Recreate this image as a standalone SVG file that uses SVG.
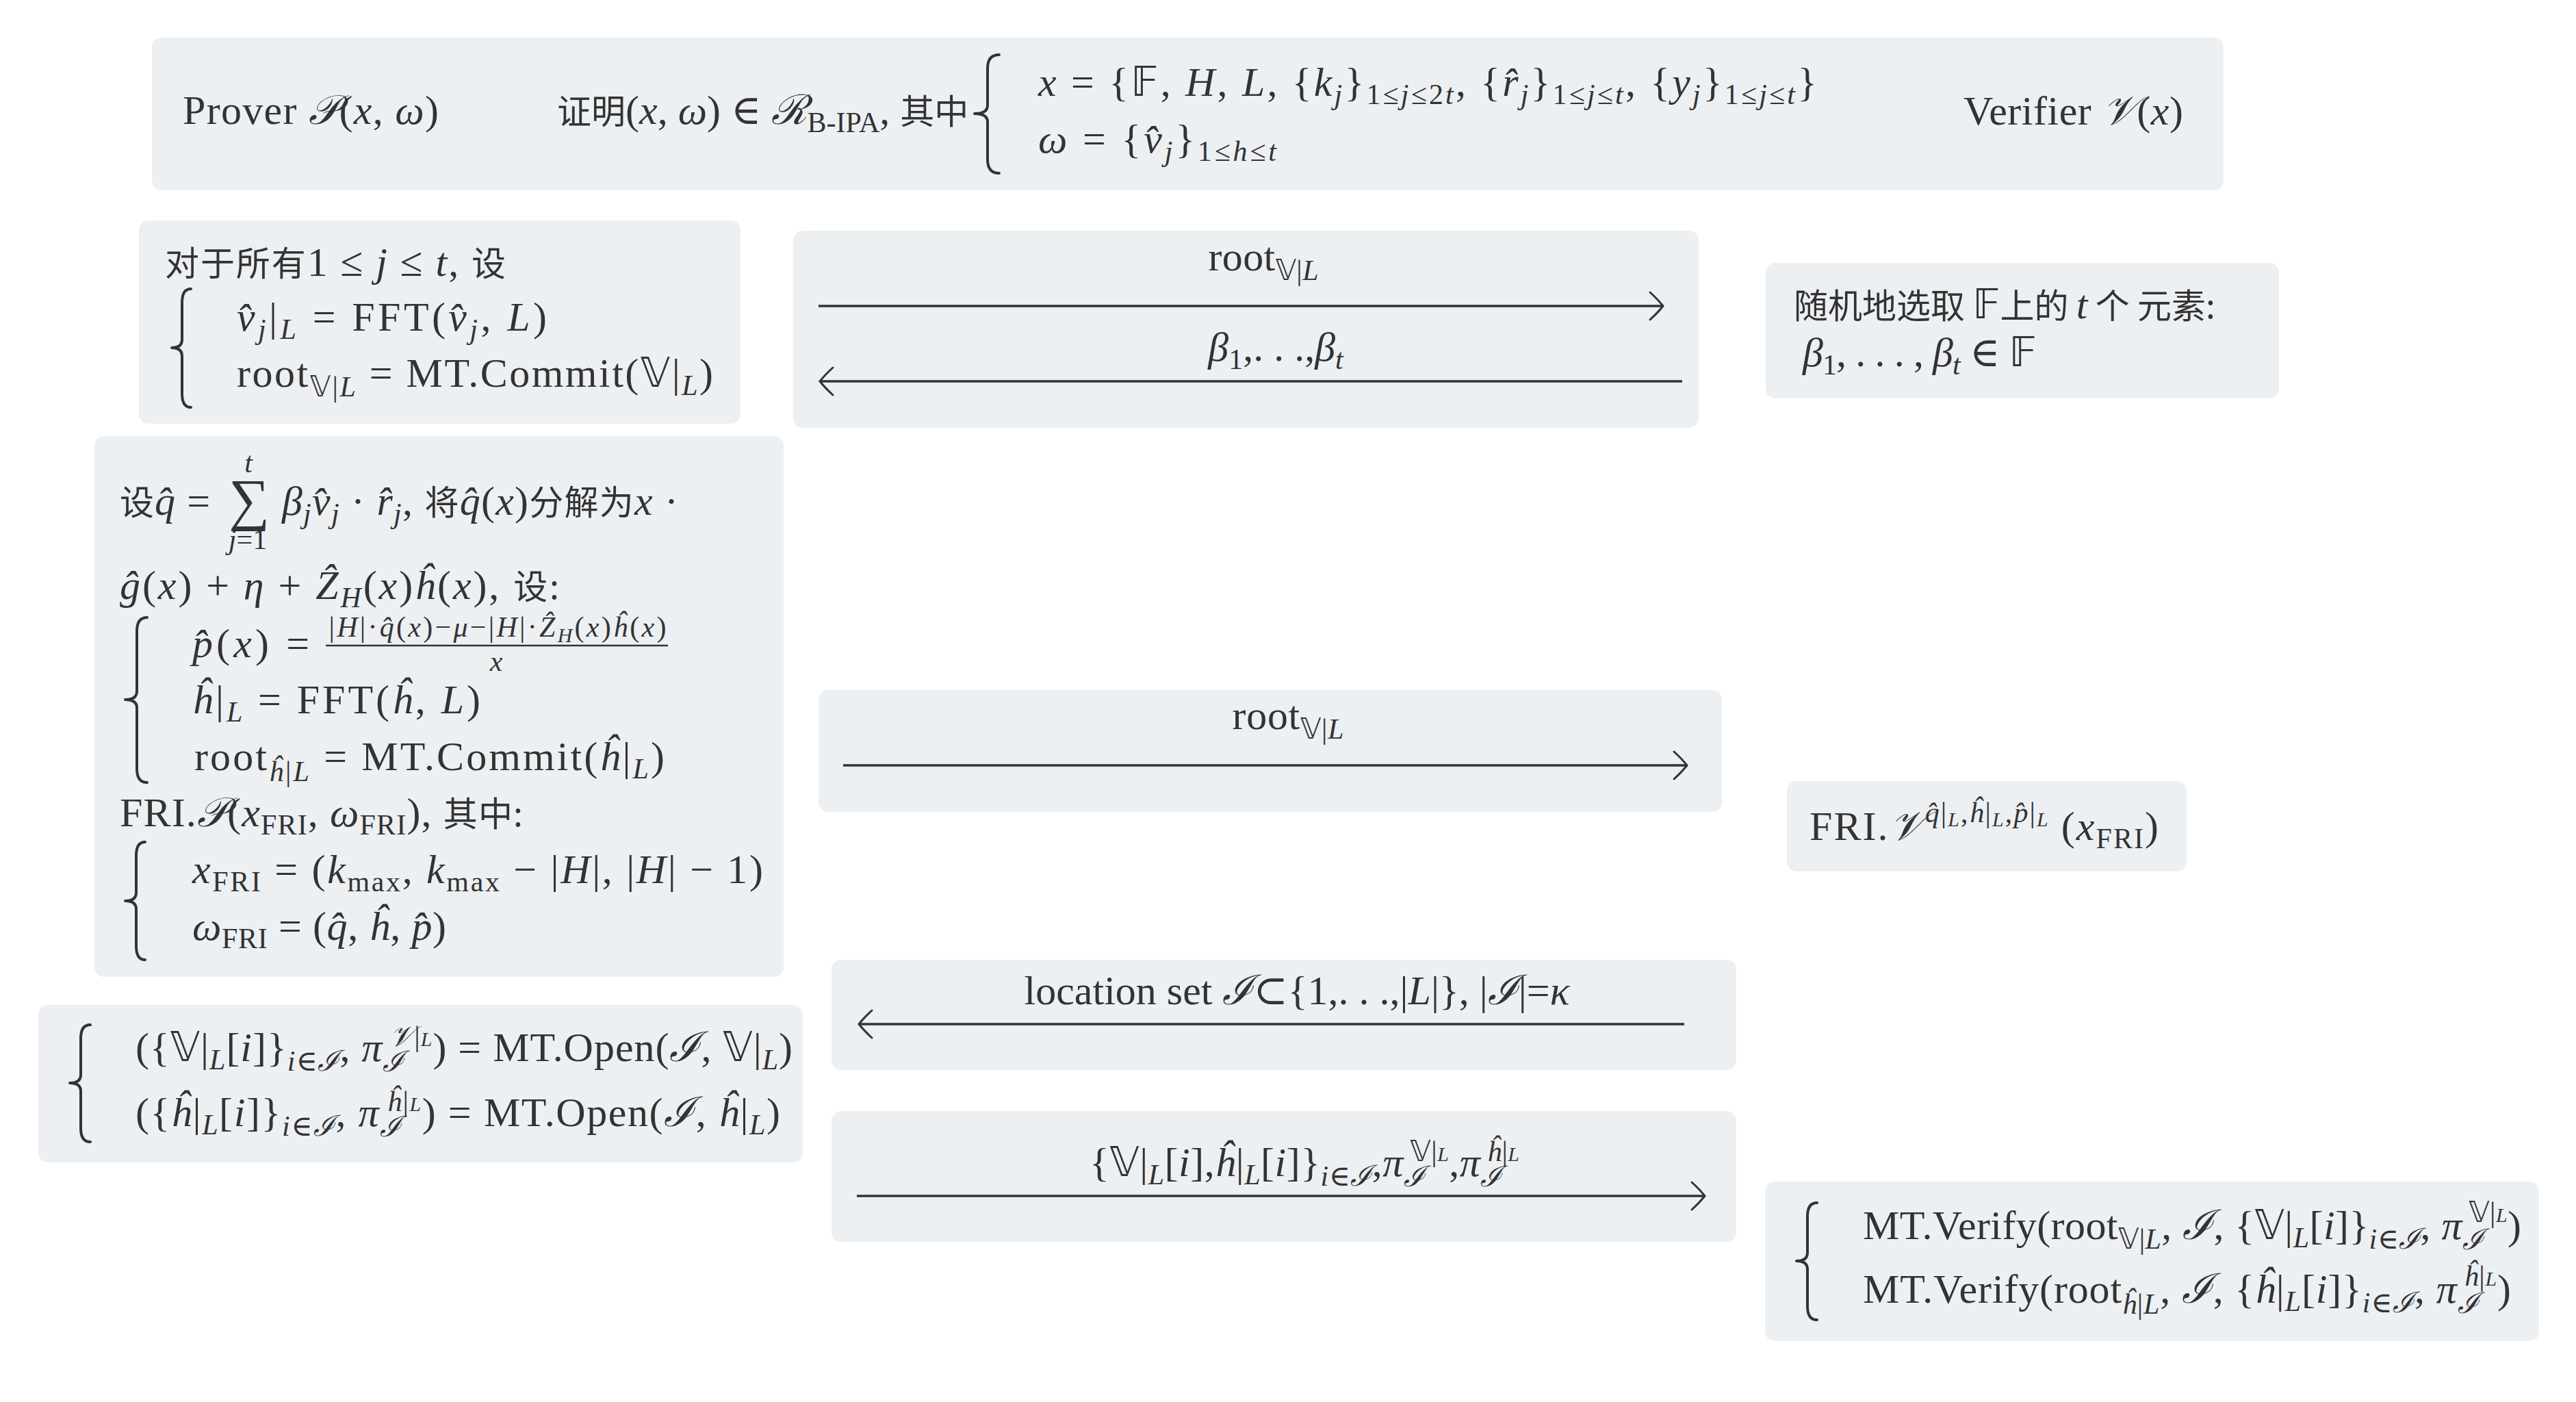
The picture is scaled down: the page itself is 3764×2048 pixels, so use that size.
<svg xmlns="http://www.w3.org/2000/svg" width="3764" height="2048" viewBox="0 0 3764 2048">
<style>
.bx{fill:#edf0f3}
text{font-family:"Liberation Serif","DejaVu Serif",serif;font-size:60px;fill:#333}
.c{font-family:"Noto Sans CJK SC","Noto Sans",sans-serif;font-size:50px;font-style:normal}
.i{font-style:italic}
.s{font-size:42px}
.ss{font-size:30px}
.sum{font-size:84px}
.bb{font-family:"DejaVu Sans","DejaVu Serif",sans-serif;font-style:normal}
.br{fill:none;stroke:#333;stroke-width:4;stroke-linecap:round;stroke-linejoin:round}
.ar{fill:none;stroke:#333;stroke-width:3.5}
.ah{fill:none;stroke:#333;stroke-width:3;stroke-linecap:round}
</style>
<defs>
<marker id="arr" viewBox="0 0 24 44" refX="22" refY="22" markerWidth="24" markerHeight="44" markerUnits="userSpaceOnUse" orient="auto" overflow="visible">
<path class="ah" d="M3,2 Q15,13 22,22 Q15,31 3,42"/>
</marker>
</defs>
<rect width="3764" height="2048" fill="#ffffff"/>

<g id="header">
<rect class="bx" x="222" y="55" width="3027" height="223" rx="14"/>
<text x="267" y="181" textLength="374" lengthAdjust="spacing">Prover <tspan class="i">𝒫</tspan>(<tspan class="i">x</tspan>, <tspan class="i">ω</tspan>)</text>
<text x="814" y="181"><tspan class="c">证明</tspan>(<tspan class="i">x</tspan>, <tspan class="i">ω</tspan>) ∈ <tspan class="i">ℛ</tspan><tspan class="s" dy="12">B-IPA</tspan><tspan dy="-12">, </tspan><tspan class="c">其中</tspan></text>
<path class="br" d="M1460,80 Q1443,80 1443,100 L1443,154 Q1443,166 1424,166 Q1443,166 1443,178 L1443,233 Q1443,253 1460,253"/>
<text x="1517" y="140" textLength="1138" lengthAdjust="spacing"><tspan class="i">x</tspan> = {<tspan class="bb">𝔽</tspan>, <tspan class="i">H</tspan>, <tspan class="i">L</tspan>, {<tspan class="i">k</tspan><tspan class="s i" dy="12">j</tspan><tspan dy="-12">}</tspan><tspan class="s" dy="12">1≤<tspan class="i">j</tspan>≤2<tspan class="i">t</tspan></tspan><tspan dy="-12">, {</tspan><tspan class="i">r̂</tspan><tspan class="s i" dy="12">j</tspan><tspan dy="-12">}</tspan><tspan class="s" dy="12">1≤<tspan class="i">j</tspan>≤<tspan class="i">t</tspan></tspan><tspan dy="-12">, {</tspan><tspan class="i">y</tspan><tspan class="s i" dy="12">j</tspan><tspan dy="-12">}</tspan><tspan class="s" dy="12">1≤<tspan class="i">j</tspan>≤<tspan class="i">t</tspan></tspan><tspan dy="-12">}</tspan></text>
<text x="1517" y="223" textLength="348" lengthAdjust="spacing"><tspan class="i">ω</tspan> = {<tspan class="i">v̂</tspan><tspan class="s i" dy="12">j</tspan><tspan dy="-12">}</tspan><tspan class="s" dy="12">1≤<tspan class="i">h</tspan>≤<tspan class="i">t</tspan></tspan></text>
<text x="2869" y="182" textLength="321" lengthAdjust="spacing">Verifier <tspan class="i">𝒱</tspan>(<tspan class="i">x</tspan>)</text>
</g>

<g id="prover-commit">
<rect class="bx" x="203" y="322" width="879" height="297" rx="14"/>
<text x="241" y="403" textLength="498" lengthAdjust="spacing"><tspan class="c">对于所有</tspan>1 ≤ <tspan class="i">j</tspan> ≤ <tspan class="i">t</tspan>, <tspan class="c">设</tspan></text>
<path class="br" d="M279,422 Q266,422 266,442 L266,496 Q266,508 251,508 Q266,508 266,520 L266,575 Q266,595 279,595"/>
<text x="346" y="483" textLength="453" lengthAdjust="spacing"><tspan class="i">v̂</tspan><tspan class="s i" dy="12">j</tspan><tspan dy="-12">|</tspan><tspan class="s i" dy="12">L</tspan><tspan dy="-12"> = FFT(</tspan><tspan class="i">v̂</tspan><tspan class="s i" dy="12">j</tspan><tspan dy="-12">, </tspan><tspan class="i">L</tspan>)</text>
<text x="346" y="565" textLength="696" lengthAdjust="spacing">root<tspan class="s" dy="14"><tspan class="bb">𝕍</tspan>|<tspan class="i">L</tspan></tspan><tspan dy="-14"> = MT.Commit(</tspan><tspan class="bb">𝕍</tspan>|<tspan class="s i" dy="12">L</tspan><tspan dy="-12">)</tspan></text>
</g>

<g id="msg-1">
<rect class="bx" x="1159" y="337" width="1323" height="288" rx="14"/>
</g>

<g id="verifier-challenge">
<rect class="bx" x="2580" y="384" width="750" height="198" rx="14"/>
<text x="2621" y="465"><tspan class="c">随机地选取 </tspan><tspan class="bb">𝔽</tspan><tspan class="c">上的 </tspan><tspan class="i">t</tspan><tspan class="c"> 个 元素:</tspan></text>
<text x="2634" y="535" textLength="342" lengthAdjust="spacing"><tspan class="i">β</tspan><tspan class="s" dy="12">1</tspan><tspan dy="-12">, . . . , </tspan><tspan class="i">β</tspan><tspan class="s i" dy="12">t</tspan><tspan dy="-12"> ∈ </tspan><tspan class="bb">𝔽</tspan></text>
</g>

<g id="prover-fri">
<rect class="bx" x="138" y="637" width="1007" height="790" rx="14"/>
<text x="175" y="752" textLength="132" lengthAdjust="spacing"><tspan class="c">设</tspan><tspan class="i">q̂</tspan> =</text>
<text x="334" y="758" class="sum">∑</text>
<text x="363" y="690" class="s i" text-anchor="middle">t</text>
<text x="362" y="802" class="s" text-anchor="middle"><tspan class="i">j</tspan>=1</text>
<text x="412" y="752" textLength="579" lengthAdjust="spacing"><tspan class="i">β</tspan><tspan class="s i" dy="12">j</tspan><tspan class="i" dy="-12">v̂</tspan><tspan class="s i" dy="12">j</tspan><tspan dy="-12"> · </tspan><tspan class="i">r̂</tspan><tspan class="s i" dy="12">j</tspan><tspan dy="-12">, </tspan><tspan class="c">将</tspan><tspan class="i">q̂</tspan>(<tspan class="i">x</tspan>)<tspan class="c">分解为</tspan><tspan class="i">x</tspan> ·</text>
<text x="175" y="875" textLength="642" lengthAdjust="spacing"><tspan class="i">ĝ</tspan>(<tspan class="i">x</tspan>) + <tspan class="i">η</tspan> + <tspan class="i">Ẑ</tspan><tspan class="s i" dy="12">H</tspan><tspan dy="-12">(</tspan><tspan class="i">x</tspan>)<tspan class="i">ĥ</tspan>(<tspan class="i">x</tspan>), <tspan class="c">设:</tspan></text>
<path class="br" d="M215,902 Q200,902 200,922 L200,1010 Q200,1022 183,1022 Q200,1022 200,1034 L200,1123 Q200,1143 215,1143"/>
<text x="281" y="960" textLength="171" lengthAdjust="spacing"><tspan class="i">p̂</tspan>(<tspan class="i">x</tspan>) =</text>
<text x="727" y="930" class="s" text-anchor="middle" textLength="493" lengthAdjust="spacing">|<tspan class="i">H</tspan>|·<tspan class="i">q̂</tspan>(<tspan class="i">x</tspan>)−<tspan class="i">μ</tspan>−|<tspan class="i">H</tspan>|·<tspan class="i">Ẑ</tspan><tspan class="ss i" dy="8">H</tspan><tspan dy="-8">(</tspan><tspan class="i">x</tspan>)<tspan class="i">ĥ</tspan>(<tspan class="i">x</tspan>)</text>
<line x1="476" y1="943" x2="976" y2="943" stroke="#333" stroke-width="2.5"/>
<text x="725" y="980" class="s i" text-anchor="middle">x</text>
<text x="281" y="1042" textLength="421" lengthAdjust="spacing"><tspan class="i">ĥ</tspan>|<tspan class="s i" dy="12">L</tspan><tspan dy="-12"> = FFT(</tspan><tspan class="i">ĥ</tspan>, <tspan class="i">L</tspan>)</text>
<text x="284" y="1125" textLength="687" lengthAdjust="spacing">root<tspan class="s" dy="16"><tspan class="i">ĥ</tspan>|<tspan class="i">L</tspan></tspan><tspan dy="-16"> = MT.Commit(</tspan><tspan class="i">ĥ</tspan>|<tspan class="s i" dy="12">L</tspan><tspan dy="-12">)</tspan></text>
<text x="175" y="1207" textLength="589" lengthAdjust="spacing">FRI.<tspan class="i">𝒫</tspan>(<tspan class="i">x</tspan><tspan class="s" dy="12">FRI</tspan><tspan dy="-12">, </tspan><tspan class="i">ω</tspan><tspan class="s" dy="12">FRI</tspan><tspan dy="-12">), </tspan><tspan class="c">其中:</tspan></text>
<path class="br" d="M212,1230 Q199,1230 199,1250 L199,1304 Q199,1316 183,1316 Q199,1316 199,1328 L199,1382 Q199,1402 212,1402"/>
<text x="281" y="1290" textLength="834" lengthAdjust="spacing"><tspan class="i">x</tspan><tspan class="s" dy="12">FRI</tspan><tspan dy="-12"> = (</tspan><tspan class="i">k</tspan><tspan class="s" dy="12">max</tspan><tspan dy="-12">, </tspan><tspan class="i">k</tspan><tspan class="s" dy="12">max</tspan><tspan dy="-12"> − |</tspan><tspan class="i">H</tspan>|, |<tspan class="i">H</tspan>| − 1)</text>
<text x="281" y="1373" textLength="371" lengthAdjust="spacing"><tspan class="i">ω</tspan><tspan class="s" dy="12">FRI</tspan><tspan dy="-12"> = (</tspan><tspan class="i">q̂</tspan>, <tspan class="i">ĥ</tspan>, <tspan class="i">p̂</tspan>)</text>
</g>

<g id="msg-2">
<rect class="bx" x="1196" y="1008" width="1320" height="178" rx="14"/>
</g>

<g id="verifier-fri">
<rect class="bx" x="2611" y="1141" width="584" height="132" rx="14"/>
<text x="2644" y="1227" textLength="510" lengthAdjust="spacing">FRI.<tspan class="i">𝒱</tspan><tspan class="s" dy="-26"><tspan class="i">q̂</tspan>|<tspan class="ss i" dy="6">L</tspan><tspan dy="-6">,</tspan><tspan class="i">ĥ</tspan>|<tspan class="ss i" dy="6">L</tspan><tspan dy="-6">,</tspan><tspan class="i">p̂</tspan>|<tspan class="ss i" dy="6">L</tspan></tspan><tspan dy="20"> (</tspan><tspan class="i">x</tspan><tspan class="s" dy="12">FRI</tspan><tspan dy="-12">)</tspan></text>
</g>

<g id="prover-open">
<rect class="bx" x="56" y="1468" width="1117" height="230" rx="14"/>
<path class="br" d="M132,1497 Q118,1497 118,1517 L118,1570 Q118,1582 102,1582 Q118,1582 118,1594 L118,1648 Q118,1668 132,1668"/>
<text x="198" y="1550" textLength="960" lengthAdjust="spacing">({<tspan class="bb">𝕍</tspan>|<tspan class="s i" dy="12">L</tspan><tspan dy="-12">[</tspan><tspan class="i">i</tspan>]}<tspan class="s" dy="14"><tspan class="i">i</tspan>∈<tspan class="i">ℐ</tspan></tspan><tspan dy="-14">, </tspan><tspan class="i">π</tspan><tspan class="s i" dy="15">ℐ</tspan><tspan class="s" dx="-22" dy="-37"><tspan class="i">𝒱</tspan>|<tspan class="ss i">L</tspan></tspan><tspan dy="22">) = MT.Open(</tspan><tspan class="i">ℐ</tspan>, <tspan class="bb">𝕍</tspan>|<tspan class="s i" dy="12">L</tspan><tspan dy="-12">)</tspan></text>
<text x="198" y="1645" textLength="942" lengthAdjust="spacing">({<tspan class="i">ĥ</tspan>|<tspan class="s i" dy="12">L</tspan><tspan dy="-12">[</tspan><tspan class="i">i</tspan>]}<tspan class="s" dy="14"><tspan class="i">i</tspan>∈<tspan class="i">ℐ</tspan></tspan><tspan dy="-14">, </tspan><tspan class="i">π</tspan><tspan class="s i" dy="15">ℐ</tspan><tspan class="s" dx="-22" dy="-37"><tspan class="i">ĥ</tspan>|<tspan class="ss i">L</tspan></tspan><tspan dy="22">) = MT.Open(</tspan><tspan class="i">ℐ</tspan>, <tspan class="i">ĥ</tspan>|<tspan class="s i" dy="12">L</tspan><tspan dy="-12">)</tspan></text>
</g>

<g id="msg-3">
<rect class="bx" x="1215" y="1402" width="1322" height="161" rx="14"/>
</g>

<g id="msg-4">
<rect class="bx" x="1215" y="1623" width="1322" height="191" rx="14"/>
</g>

<g id="verifier-check">
<rect class="bx" x="2579" y="1726" width="1131" height="233" rx="14"/>
<path class="br" d="M2655,1757 Q2641,1757 2641,1777 L2641,1830 Q2641,1842 2625,1842 Q2641,1842 2641,1854 L2641,1908 Q2641,1928 2655,1928"/>
<text x="2722" y="1810" textLength="962" lengthAdjust="spacing">MT.Verify(root<tspan class="s" dy="14"><tspan class="bb">𝕍</tspan>|<tspan class="i">L</tspan></tspan><tspan dy="-14">, </tspan><tspan class="i">ℐ</tspan>, {<tspan class="bb">𝕍</tspan>|<tspan class="s i" dy="12">L</tspan><tspan dy="-12">[</tspan><tspan class="i">i</tspan>]}<tspan class="s" dy="14"><tspan class="i">i</tspan>∈<tspan class="i">ℐ</tspan></tspan><tspan dy="-14">, </tspan><tspan class="i">π</tspan><tspan class="s i" dy="15">ℐ</tspan><tspan class="s" dx="-22" dy="-40"><tspan class="bb">𝕍</tspan>|<tspan class="ss i">L</tspan></tspan><tspan dy="25">)</tspan></text>
<text x="2722" y="1903" textLength="947" lengthAdjust="spacing">MT.Verify(root<tspan class="s" dy="16"><tspan class="i">ĥ</tspan>|<tspan class="i">L</tspan></tspan><tspan dy="-16">, </tspan><tspan class="i">ℐ</tspan>, {<tspan class="i">ĥ</tspan>|<tspan class="s i" dy="12">L</tspan><tspan dy="-12">[</tspan><tspan class="i">i</tspan>]}<tspan class="s" dy="14"><tspan class="i">i</tspan>∈<tspan class="i">ℐ</tspan></tspan><tspan dy="-14">, </tspan><tspan class="i">π</tspan><tspan class="s i" dy="15">ℐ</tspan><tspan class="s" dx="-22" dy="-40"><tspan class="i">ĥ</tspan>|<tspan class="ss i">L</tspan></tspan><tspan dy="25">)</tspan></text>
</g>

<g id="connectors">
<path class="ar" d="M1196,447 H2430" marker-end="url(#arr)"/>
<text x="1846" y="395" text-anchor="middle" textLength="161" lengthAdjust="spacing">root<tspan class="s" dy="14"><tspan class="bb">𝕍</tspan>|<tspan class="i">L</tspan></tspan></text>
<path class="ar" d="M2458,557 H1198" marker-end="url(#arr)"/>
<text x="1864" y="527" text-anchor="middle"><tspan class="i">β</tspan><tspan class="s" dy="12">1</tspan><tspan dy="-12">,. . .,</tspan><tspan class="i">β</tspan><tspan class="s i" dy="12">t</tspan></text>
<path class="ar" d="M1232,1118 H2465" marker-end="url(#arr)"/>
<text x="1882" y="1065" text-anchor="middle" textLength="163" lengthAdjust="spacing">root<tspan class="s" dy="14"><tspan class="bb">𝕍</tspan>|<tspan class="i">L</tspan></tspan></text>
<path class="ar" d="M2461,1496 H1255" marker-end="url(#arr)"/>
<text x="1895" y="1467" text-anchor="middle">location set <tspan class="i">ℐ</tspan>⊂{1,. . .,|<tspan class="i">L</tspan>|}, |<tspan class="i">ℐ</tspan>|=<tspan class="i">κ</tspan></text>
<path class="ar" d="M1252,1747 H2491" marker-end="url(#arr)"/>
<text x="1906" y="1718" text-anchor="middle" textLength="628" lengthAdjust="spacing">{<tspan class="bb">𝕍</tspan>|<tspan class="s i" dy="12">L</tspan><tspan dy="-12">[</tspan><tspan class="i">i</tspan>],<tspan class="i">ĥ</tspan>|<tspan class="s i" dy="12">L</tspan><tspan dy="-12">[</tspan><tspan class="i">i</tspan>]}<tspan class="s" dy="14"><tspan class="i">i</tspan>∈<tspan class="i">ℐ</tspan></tspan><tspan dy="-14">,</tspan><tspan class="i">π</tspan><tspan class="s i" dy="15">ℐ</tspan><tspan class="s" dx="-22" dy="-37"><tspan class="bb">𝕍</tspan>|<tspan class="ss i">L</tspan></tspan><tspan dy="22">,</tspan><tspan class="i">π</tspan><tspan class="s i" dy="15">ℐ</tspan><tspan class="s" dx="-22" dy="-37"><tspan class="i">ĥ</tspan>|<tspan class="ss i">L</tspan></tspan></text>
</g>
</svg>
